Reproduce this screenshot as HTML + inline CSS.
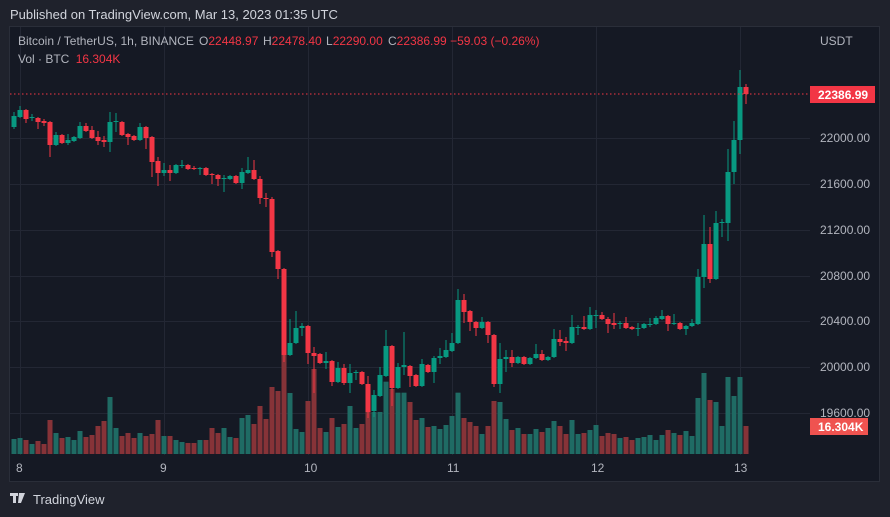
<!DOCTYPE html>
<html><head><meta charset="utf-8">
<style>
html,body{margin:0;padding:0;background:#1f222c;width:890px;height:517px;overflow:hidden;font-family:"Liberation Sans",sans-serif;}
svg{position:absolute;left:0;top:0;}
</style></head>
<body>
<svg id="s" width="890" height="517" xmlns="http://www.w3.org/2000/svg">
<rect x="0" y="0" width="890" height="517" fill="#1f222c"/>
<text x="10" y="19" font-size="13" fill="#d1d4dc" font-family="Liberation Sans, sans-serif">Published on TradingView.com, Mar 13, 2023 01:35 UTC</text>
<rect x="9.5" y="26.5" width="870" height="455" fill="#151924" stroke="#2a2e39"/>
<g id="grid" stroke="#232734" stroke-width="1"></g>
<g id="vol"></g>
<g id="candles"></g>
<line x1="10" y1="94" x2="810" y2="94" stroke="#f23645" stroke-dasharray="1.5,2.5"/>
<g font-family="Liberation Sans, sans-serif" font-size="12" fill="#b2b5be">
<text x="18" y="45">Bitcoin / TetherUS, 1h, BINANCE</text>
<text x="199" y="45">O<tspan fill="#f23645">22448.97</tspan></text>
<text x="263" y="45">H<tspan fill="#f23645">22478.40</tspan></text>
<text x="326" y="45">L<tspan fill="#f23645">22290.00</tspan></text>
<text x="388" y="45">C<tspan fill="#f23645">22386.99</tspan> <tspan fill="#f23645">−59.03 (−0.26%)</tspan></text>
<text x="18" y="63">Vol · BTC <tspan fill="#f23645" dx="3">16.304K</tspan></text>
<text x="820" y="45">USDT</text>
</g>
<g id="axis" font-family="Liberation Sans, sans-serif" font-size="12" fill="#b2b5be"></g>
<rect x="810" y="86" width="65" height="17" fill="#f23645"/>
<text x="818" y="99" font-size="12" font-weight="bold" fill="#ffffff" font-family="Liberation Sans, sans-serif">22386.99</text>
<rect x="810" y="418" width="58" height="17" fill="#ef5350"/>
<text x="818" y="431" font-size="12" font-weight="bold" fill="#ffffff" font-family="Liberation Sans, sans-serif">16.304K</text>
<g font-family="Liberation Sans, sans-serif" font-size="12" fill="#b2b5be">
<text x="16" y="472">8</text><text x="160" y="472">9</text><text x="304" y="472">10</text>
<text x="447" y="472">11</text><text x="591" y="472">12</text><text x="734" y="472">13</text>
</g>
<rect x="10" y="493" width="8" height="3" fill="#d1d4dc"/><rect x="13" y="493" width="3" height="10" fill="#d1d4dc"/>
<polygon points="19,493 25,493 21,503 18,503" fill="#d1d4dc"/>
<text x="33" y="504" font-size="13" fill="#d1d4dc" font-family="Liberation Sans, sans-serif">TradingView</text>
</svg>
<script>
var ns="http://www.w3.org/2000/svg";
function el(p,t,a){var e=document.createElementNS(ns,t);for(var k in a)e.setAttribute(k,a[k]);p.appendChild(e);return e;}
var g=document.getElementById('grid');
[138,184,230,276,321,367,413].forEach(function(y){el(g,'line',{x1:10,x2:810,y1:y+.5,y2:y+.5});});
[20.5,164.5,308.5,452.5,596.5,740.5].forEach(function(x){el(g,'line',{x1:x,x2:x,y1:27,y2:455});});
var ax=document.getElementById('axis');
var lv=[[138,'22000.00'],[184,'21600.00'],[230,'21200.00'],[276,'20800.00'],[321,'20400.00'],[367,'20000.00'],[413,'19600.00']];
lv.forEach(function(l){var t=el(ax,'text',{x:820,y:l[0]+4});t.textContent=l[1];});
var C=[[127,116,112,129],[117,110,106,118],[110,119,109,123],[118,117,114,121],[118,122,117,129],[121,123,119,126],[122,145,121,157],[145,135,132,146],[135,143,134,144],[143,140,134,145],[141,137,136,142],[138,126,122,139],[126,131,123,132],[130,138,126,139],[137,141,131,145],[140,142,136,147],[142,122,112,152],[122,121,113,132],[122,135,121,136],[134,137,133,145],[136,140,135,141],[140,127,123,141],[127,138,126,149],[137,162,136,177],[161,173,157,186],[173,170,163,176],[170,173,165,181],[173,165,164,174],[166,165,160,168],[165,169,164,170],[168,169,166,170],[169,168,167,175],[168,175,167,176],[174,175,173,184],[175,179,174,186],[179,178,175,192],[179,176,175,180],[176,183,175,184],[183,172,168,189],[173,170,157,174],[170,179,160,180],[179,198,176,204],[198,199,193,207],[199,252,197,257],[251,269,250,279],[269,355,268,362],[355,343,319,356],[343,328,311,344],[328,326,323,336],[326,353,325,364],[353,356,347,393],[354,363,353,364],[363,361,352,369],[361,382,360,386],[382,368,362,383],[368,383,364,385],[383,373,364,393],[373,372,370,380],[372,384,371,385],[384,412,376,418],[411,395,390,417],[396,375,367,397],[376,346,330,377],[346,388,345,406],[388,367,363,389],[367,365,332,375],[366,376,365,387],[375,386,374,387],[386,364,359,387],[365,372,364,373],[372,358,356,383],[358,356,348,364],[357,350,340,358],[351,343,333,352],[343,300,289,344],[300,312,294,323],[311,322,310,331],[322,328,321,336],[328,322,317,329],[322,335,321,343],[335,384,334,387],[384,359,343,393],[359,357,350,372],[357,363,350,367],[363,357,356,364],[357,364,356,365],[364,358,357,365],[358,354,344,359],[354,360,350,361],[360,357,356,361],[357,339,329,358],[339,342,330,346],[341,343,337,351],[343,327,315,344],[328,327,325,335],[327,329,316,330],[329,315,307,330],[315,315,310,328],[315,319,312,320],[319,324,317,333],[323,325,313,329],[324,323,321,329],[323,328,317,329],[327,329,326,330],[329,328,323,336],[328,324,323,329],[324,324,318,327],[324,318,316,325],[319,316,310,320],[316,324,315,331],[324,323,314,325],[323,329,322,330],[329,326,325,335],[326,323,319,327],[324,277,269,325],[277,244,215,288],[244,279,227,283],[279,223,211,280],[223,222,219,237],[223,172,149,241],[172,140,121,184],[140,87,70,154],[87,94,84,104]];
var V=[1137,1134,1140,1152,1143,1152,1080,1119,1134,1131,1140,1113,1131,1125,1098,1083,1011,1104,1128,1119,1134,1119,1128,1122,1080,1128,1128,1140,1146,1149,1149,1140,1140,1104,1119,1104,1131,1134,1074,1065,1092,1038,1077,981,993,885,999,1107,1116,1023,927,1104,1116,1074,1101,1092,1038,1104,1092,1056,1056,1056,965,987,998,998,1026,1080,1074,1101,1098,1107,1095,1068,998,1074,1086,1098,1122,1098,1023,1026,1077,1110,1104,1122,1122,1107,1116,1104,1083,1098,1122,1080,1122,1119,1110,1095,1128,1119,1122,1134,1131,1140,1134,1131,1125,1140,1125,1110,1119,1125,1113,1128,1014,939,1020,1026,1098,951,1008,951,1098];
var cg=document.getElementById('candles'),vg=document.getElementById('vol');
C.forEach(function(c,i){
 var x=14+6*i;var up=c[1]<=c[0];
 var col=up?'#089981':'#f23645';
 var top=Math.min(c[0],c[1]),bot=Math.max(c[0],c[1]);
 el(cg,'rect',{x:x-0.5,y:c[2],width:1,height:c[3]-c[2],fill:col});
 el(cg,'rect',{x:x-2.5,y:top,width:5,height:Math.max(1,bot-top),fill:col});
 var vt=60+V[i]/3;
 el(vg,'rect',{x:x-2.5,y:vt,width:5,height:454-vt,fill:up?'#1f6b64':'#863338'});
});
</script>
</body></html>
